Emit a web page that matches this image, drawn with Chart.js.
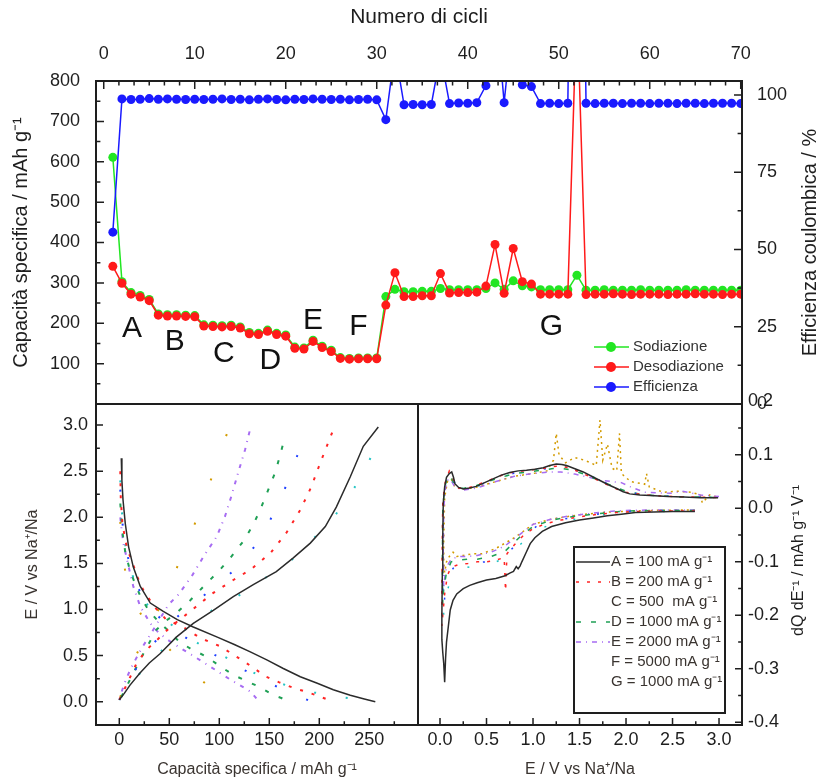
<!DOCTYPE html>
<html>
<head>
<meta charset="utf-8">
<script src="https://cdn.jsdelivr.net/npm/chart.js@4"></script>
<style>
  body { margin: 0; background: #fff; }
  #wrap { position: relative; width: 820px; height: 778px; overflow: hidden; }
  canvas { position: absolute; }
  #cyc { left: 0; top: 0; }
  #prof { left: 0; top: 387px; }
  #dqde { left: 400px; top: 389px; }
</style>
</head>
<body>
<div id="wrap">
  <canvas id="cyc" width="820" height="429"></canvas>
  <canvas id="prof" width="420" height="391"></canvas>
  <canvas id="dqde" width="420" height="389"></canvas>
</div>
<script>
// ---- ciclazione a diverse correnti ----
const cicli = [1,2,3,4,5,6,7,8,9,10,11,12,13,14,15,16,17,18,19,20,21,22,23,24,25,26,27,28,29,30,
  31,32,33,34,35,36,37,38,39,40,41,42,43,44,45,46,47,48,49,50,51,52,53,54,55,56,57,58,59,60,
  61,62,63,64,65,66,67,68,69,70];
const sodiazione = [611,303,276,269,259,223,221,221,220,219,196,195,194,195,191,177,175,183,175,171,
  141,139,158,143,133,115,113,114,114,114,266,284,278,278,279,279,286,283,283,283,
  283,286,300,284,305,293,290,283,283,283,283,319,282,282,283,282,282,282,283,282,
  282,282,282,283,282,282,282,282,282,282];
const desodiazione = [341,299,272,265,256,220,218,218,217,216,193,192,191,192,188,174,172,180,172,168,
  138,136,155,140,130,113,111,112,112,112,245,325,266,266,268,268,323,275,276,276,
  277,292,395,274,385,303,297,272,272,272,272,1000,271,272,272,273,272,271,272,272,
  272,271,272,272,273,272,272,271,272,272];
const efficienza = [55.6,98.7,98.5,98.6,98.8,98.6,98.7,98.6,98.5,98.6,98.5,98.6,98.7,98.5,98.6,98.4,98.6,98.7,98.5,98.4,
  98.6,98.5,98.7,98.6,98.5,98.6,98.4,98.5,98.6,98.4,92.0,114.4,96.8,96.9,96.8,96.9,113.0,97.2,97.4,97.3,
  97.5,103.0,131.7,97.5,126.2,103.3,102.7,97.2,97.3,97.2,97.3,313,97.3,97.2,97.3,97.3,97.2,97.3,97.3,97.2,
  97.3,97.3,97.2,97.3,97.3,97.2,97.3,97.3,97.3,97.2];
const regimi = ['A','B','C','D','E','F','G'];
const regimiCiclo = [3.1, 7.8, 13.2, 18.3, 23.0, 28.0, 49.2];
const regimiCapacita = [187, 154, 125, 108, 207, 191, 191];

const tickCicli = [0,10,20,30,40,50,60,70];
const tickCapacita = [100,200,300,400,500,600,700,800];
const tickEfficienza = [0,25,50,75,100];

// ---- profili galvanostatici [capacità, E] ----
const profA_sod = [[2,2.64],[2.6,2.4],[3.7,2.19],[6,1.93],[9.3,1.68],[14,1.46],[21,1.25],[31,1.07],[44,0.98],[58,0.89],[74,0.81],[98,0.70],[115,0.62],[131,0.54],[148,0.45],[164,0.36],[181,0.27],[198,0.20],[214,0.13],[231,0.07],[245,0.03],[256,0.0]];
const profA_des = [[0,0.02],[5,0.09],[10.7,0.18],[20.7,0.31],[30,0.42],[40.7,0.52],[57,0.70],[74,0.85],[94,0.99],[114,1.14],[134,1.27],[157,1.41],[174,1.56],[191,1.72],[206,1.90],[217,2.11],[231,2.44],[244,2.77],[259,2.98]];
const profB_sod = [[1,2.5],[1.5,2.2],[3,1.95],[6,1.75],[9,1.62],[12.4,1.54],[17,1.38],[24,1.21],[35,1.03],[47,0.89],[64,0.81],[81,0.69],[101,0.60],[114,0.51],[127,0.42],[147,0.27],[160,0.21],[174,0.15],[186,0.11],[197,0.07],[209,0.02]];
const profB_des = [[0,0.02],[8,0.2],[17.4,0.42],[28,0.57],[40.7,0.70],[52,0.82],[64,0.92],[79,1.05],[94,1.18],[114,1.32],[131,1.43],[151,1.61],[167,1.83],[181,2.08],[192,2.33],[202,2.62],[214,2.95]];
const profC_sod = [[1,2.3],[3,1.95],[6,1.7],[10,1.5],[16,1.3],[24,1.12],[34,0.98],[46,0.85],[60,0.74],[80,0.6],[100,0.48],[120,0.37],[140,0.26],[158,0.16],[175,0.08],[190,0.01]];
const profC_des = [[0,0.02],[10,0.24],[22,0.45],[35,0.64],[50,0.84],[68,1.02],[88,1.18],[100,1.28],[118,1.46],[135,1.68],[150,1.95],[162,2.22],[171,2.45],[178,2.67],[188,2.97]];
const profD_sod = [[1,2.15],[3,1.85],[6,1.62],[10,1.45],[15,1.3],[22,1.12],[30,0.98],[40,0.86],[50,0.76],[60,0.65],[72,0.57],[87,0.49],[100,0.39],[114,0.29],[128,0.22],[140,0.16],[154,0.07],[162,0.04],[170,0.0]];
const profD_des = [[2,0.05],[8,0.18],[14,0.31],[24,0.52],[37,0.78],[47,0.88],[57,0.96],[71,1.10],[86,1.27],[99,1.41],[111,1.56],[124,1.74],[134,1.92],[142,2.11],[149,2.30],[156,2.49],[161,2.68],[166,2.89]];
const profE_sod = [[1,2.0],[2.5,1.85],[4,1.72],[9,1.48],[14,1.25],[21,1.03],[31,0.85],[40,0.74],[50,0.66],[60,0.59],[72,0.51],[91,0.38],[111,0.24],[125,0.15],[131,0.11],[136,0.05],[139,0.01]];
const profE_des = [[2.4,0.11],[7,0.25],[12.4,0.38],[22.4,0.58],[34,0.78],[49,1.05],[59,1.16],[72.4,1.36],[84,1.57],[97.4,1.79],[105.7,2.01],[112.4,2.24],[119,2.49],[125.7,2.73],[130.7,2.95]];
const profF_sod = [[1,1.95],[3,1.6],[7,1.35],[14,1.1],[25.7,0.87],[40,0.68],[50,0.57],[62.4,0.43],[75,0.3],[88,0.18],[100,0.09],[110,0.02]];
const profF_des = [[1,0.05],[10,0.35],[22,0.62],[35,0.9],[50,1.25],[65,1.65],[80,2.05],[92,2.42],[102,2.75],[110,2.97]];
const profG_sod = [[1,2.4],[3,2.0],[6,1.7],[10,1.48],[16,1.28],[24,1.10],[35,0.97],[45,0.9],[56,0.8],[70,0.7],[83,0.6],[100,0.52],[118,0.41],[137,0.3],[155,0.22],[175,0.15],[195,0.1],[215,0.06],[235,0.03],[258,0.0]];
const profG_des = [[0,0.02],[10,0.16],[20,0.3],[40,0.53],[60,0.73],[80,0.9],[97,1.02],[114,1.11],[137,1.28],[160,1.44],[180,1.6],[196,1.79],[202,1.85],[215,2.01],[230,2.23],[245,2.5],[257,2.78],[261,2.95]];

const tickCapProfilo = [0,50,100,150,200,250];
const tickPotenziale = [0,0.5,1,1.5,2,2.5,3];

// ---- voltammetria differenziale [E, dQ/dE] ----
const dqA = [[2.74,-0.006],[2.5,-0.006],[2.3,-0.007],[2.1,-0.008],[1.95,-0.011],[1.8,-0.014],[1.65,-0.018],[1.5,-0.022],[1.35,-0.027],[1.2,-0.034],[1.1,-0.043],[1.02,-0.055],[0.97,-0.066],[0.92,-0.085],[0.88,-0.1],[0.86,-0.108],[0.84,-0.113],[0.82,-0.109],[0.79,-0.118],[0.75,-0.121],[0.7,-0.126],[0.6,-0.131],[0.5,-0.134],[0.4,-0.139],[0.32,-0.144],[0.25,-0.15],[0.18,-0.16],[0.14,-0.172],[0.11,-0.19],[0.09,-0.22],[0.07,-0.25],[0.06,-0.28],[0.05,-0.325],[0.04,-0.29],[0.03,-0.27],[0.02,-0.245],[0.02,-0.2],[0.025,-0.12],[0.03,-0.05],[0.035,0.01],[0.05,0.04],[0.07,0.058],[0.1,0.065],[0.126,0.068],[0.145,0.058],[0.16,0.046],[0.2,0.039],[0.25,0.036],[0.32,0.038],[0.39,0.041],[0.48,0.048],[0.57,0.055],[0.66,0.062],[0.75,0.067],[0.84,0.07],[0.93,0.071],[1.02,0.073],[1.11,0.076],[1.18,0.08],[1.25,0.083],[1.31,0.082],[1.36,0.08],[1.45,0.074],[1.54,0.068],[1.63,0.06],[1.72,0.052],[1.81,0.044],[1.9,0.037],[1.97,0.031],[2.04,0.027],[2.15,0.025],[2.26,0.024],[2.45,0.022],[2.62,0.021],[2.8,0.02],[2.99,0.02]];
const dqB = [[2.74,-0.005],[2.4,-0.005],[2.1,-0.006],[1.9,-0.008],[1.7,-0.011],[1.5,-0.016],[1.3,-0.022],[1.15,-0.028],[1.0,-0.038],[0.9,-0.05],[0.8,-0.068],[0.72,-0.085],[0.705,-0.155],[0.69,-0.092],[0.6,-0.097],[0.5,-0.1],[0.4,-0.1],[0.3,-0.103],[0.2,-0.105],[0.12,-0.11],[0.08,-0.125],[0.05,-0.16],[0.03,-0.2],[0.02,-0.22],[0.02,-0.15],[0.025,-0.05],[0.03,0.01],[0.05,0.045],[0.08,0.06],[0.1,0.07],[0.13,0.062],[0.16,0.045],[0.2,0.038],[0.3,0.038],[0.4,0.044],[0.5,0.05],[0.6,0.058],[0.7,0.064],[0.8,0.068],[0.9,0.07],[1.0,0.072],[1.1,0.074],[1.2,0.078],[1.3,0.079],[1.4,0.075],[1.5,0.068],[1.6,0.06],[1.7,0.052],[1.8,0.044],[1.9,0.036],[2.0,0.03],[2.2,0.025],[2.5,0.022],[2.8,0.021],[3.0,0.02]];
const dqC = [[2.74,-0.005],[2.3,-0.005],[2.0,-0.006],[1.8,-0.009],[1.6,-0.013],[1.4,-0.018],[1.2,-0.024],[1.05,-0.032],[0.95,-0.045],[0.85,-0.062],[0.75,-0.08],[0.65,-0.092],[0.5,-0.1],[0.35,-0.102],[0.25,-0.105],[0.15,-0.11],[0.09,-0.125],[0.06,-0.15],[0.04,-0.185],[0.03,-0.19],[0.03,-0.12],[0.035,-0.02],[0.045,0.03],[0.07,0.055],[0.1,0.066],[0.13,0.06],[0.17,0.043],[0.25,0.037],[0.4,0.042],[0.6,0.055],[0.8,0.066],[1.0,0.07],[1.2,0.076],[1.3,0.077],[1.4,0.074],[1.55,0.066],[1.7,0.054],[1.85,0.042],[2.0,0.031],[2.2,0.025],[2.5,0.022],[2.8,0.021],[3.0,0.02]];
const dqD = [[2.74,-0.004],[2.3,-0.004],[2.0,-0.005],[1.8,-0.008],[1.6,-0.012],[1.4,-0.016],[1.2,-0.022],[1.0,-0.034],[0.85,-0.055],[0.7,-0.08],[0.55,-0.09],[0.4,-0.095],[0.3,-0.095],[0.2,-0.097],[0.12,-0.1],[0.07,-0.12],[0.04,-0.15],[0.03,-0.18],[0.025,-0.1],[0.03,0.0],[0.05,0.04],[0.09,0.062],[0.12,0.058],[0.16,0.042],[0.25,0.037],[0.4,0.043],[0.6,0.055],[0.8,0.065],[1.0,0.069],[1.2,0.074],[1.3,0.075],[1.4,0.072],[1.55,0.064],[1.7,0.053],[1.85,0.042],[2.0,0.032],[2.2,0.025],[2.5,0.022],[2.8,0.021],[3.0,0.02]];
const dqE = [[2.74,-0.003],[2.3,-0.003],[2.0,-0.004],[1.8,-0.006],[1.6,-0.01],[1.4,-0.014],[1.2,-0.02],[1.0,-0.03],[0.85,-0.05],[0.7,-0.07],[0.55,-0.082],[0.4,-0.088],[0.3,-0.09],[0.2,-0.09],[0.12,-0.095],[0.07,-0.11],[0.05,-0.13],[0.04,-0.15],[0.035,-0.08],[0.04,0.0],[0.06,0.04],[0.09,0.055],[0.12,0.052],[0.16,0.04],[0.25,0.034],[0.4,0.038],[0.6,0.05],[0.8,0.06],[1.0,0.065],[1.2,0.068],[1.3,0.068],[1.45,0.064],[1.6,0.058],[1.75,0.052],[1.85,0.05],[1.95,0.048],[2.05,0.04],[2.2,0.03],[2.5,0.028],[2.6,0.032],[2.8,0.025],[3.0,0.022]];
const dqF = [[2.74,-0.003],[2.2,-0.004],[1.8,-0.007],[1.5,-0.012],[1.2,-0.02],[1.0,-0.03],[0.8,-0.055],[0.6,-0.075],[0.45,-0.085],[0.35,-0.085],[0.25,-0.088],[0.18,-0.09],[0.14,-0.082],[0.1,-0.09],[0.07,-0.1],[0.05,-0.12],[0.04,-0.1],[0.04,-0.06],[0.05,0.02],[0.08,0.05],[0.12,0.055],[0.16,0.04],[0.25,0.035],[0.4,0.04],[0.6,0.05],[0.8,0.06],[1.0,0.065],[1.15,0.07],[1.22,0.09],[1.25,0.14],[1.28,0.1],[1.35,0.085],[1.45,0.095],[1.55,0.09],[1.62,0.085],[1.68,0.08],[1.72,0.165],[1.75,0.09],[1.8,0.12],[1.85,0.075],[1.9,0.07],[1.93,0.14],[1.95,0.065],[2.05,0.05],[2.2,0.045],[2.22,0.065],[2.25,0.04],[2.4,0.03],[2.55,0.032],[2.7,0.03],[2.8,0.025],[2.82,0.01],[2.9,0.025],[3.0,0.02]];
const dqG = [[2.74,-0.005],[2.3,-0.006],[2.0,-0.008],[1.8,-0.011],[1.6,-0.016],[1.4,-0.022],[1.2,-0.03],[1.05,-0.04],[0.95,-0.052],[0.85,-0.07],[0.75,-0.09],[0.6,-0.1],[0.45,-0.105],[0.3,-0.11],[0.18,-0.12],[0.1,-0.14],[0.06,-0.17],[0.04,-0.2],[0.03,-0.15],[0.035,-0.02],[0.05,0.04],[0.08,0.06],[0.12,0.066],[0.16,0.045],[0.25,0.037],[0.4,0.041],[0.6,0.054],[0.8,0.066],[1.0,0.071],[1.2,0.078],[1.3,0.08],[1.4,0.076],[1.55,0.067],[1.7,0.054],[1.85,0.042],[2.0,0.031],[2.2,0.025],[2.5,0.022],[2.8,0.021],[3.0,0.02]];

const correnti = ['A = 100 mA g\u207B\u00B9','B = 200 mA g\u207B\u00B9','C = 500  mA g\u207B\u00B9','D = 1000 mA g\u207B\u00B9','E = 2000 mA g\u207B\u00B9','F = 5000 mA g\u207B\u00B9','G = 1000 mA g\u207B\u00B9'];
const tickDq = [0.2,0.1,0,-0.1,-0.2,-0.3,-0.4];
const tickE = [0,0.5,1,1.5,2,2.5,3];

// ---- stile comune ----
const FONT = "'Liberation Sans', Arial, sans-serif";
const INK = '#1e1e1e';
const colori = ['#2b2b2b','#ff2424','#2040ff','#1fa055','#a76cf2','#d39b00','#22c4c4'];
const tratti = [[], [3,8], [2,30], [5,10], [5,5,1,5], [2,4], [2,28]];
const trattiProfilo = [[], [3,9], [2,32], [4,11], [4,6,1,6], [2,45], [2,30]];

function fissaTick(valori) {
  return s => { s.ticks = valori.map(v => ({ value: v })); };
}
function asse(opts) {
  return Object.assign({
    type: 'linear',
    grid: { display: false, drawTicks: false },
    border: { display: false }
  }, opts);
}
function fontTick(size) { return { family: FONT, size: size, lineHeight: 1 }; }

// tacche interne: passo maggiore e numero di tacche minori
function tacche(chart, id, lato, passo, minori, lung) {
  const s = chart.scales[id], a = chart.chartArea, ctx = chart.ctx;
  const sub = passo / (minori + 1);
  const k0 = Math.ceil(s.min / sub - 1e-6), k1 = Math.floor(s.max / sub + 1e-6);
  ctx.save();
  ctx.strokeStyle = INK;
  ctx.lineWidth = 1.5;
  ctx.beginPath();
  for (let k = k0; k <= k1; k++) {
    const p = s.getPixelForValue(k * sub);
    const L = (((k % (minori + 1)) + (minori + 1)) % (minori + 1) === 0) ? lung : lung * 0.55;
    if (lato === 'left') { ctx.moveTo(a.left, p); ctx.lineTo(a.left + L, p); }
    if (lato === 'right') { ctx.moveTo(a.right, p); ctx.lineTo(a.right - L, p); }
    if (lato === 'top') { ctx.moveTo(p, a.top); ctx.lineTo(p, a.top + L); }
    if (lato === 'bottom') { ctx.moveTo(p, a.bottom); ctx.lineTo(p, a.bottom - L); }
  }
  ctx.stroke();
  ctx.restore();
}

const cornice = {
  id: 'cornice',
  afterDraw(chart, args, o) {
    const { ctx, chartArea: a } = chart;
    (o.tacche || []).forEach(t => tacche(chart, ...t));
    ctx.save();
    ctx.strokeStyle = INK;
    ctx.lineWidth = 2;
    ctx.strokeRect(a.left, a.top, a.width, a.height);
    if (o.titoloDestro) {
      // titolo dell'asse destro, letto dal basso verso l'alto
      ctx.translate(o.titoloDestro.x, (a.top + a.bottom) / 2 + (o.titoloDestro.dy || 0));
      ctx.rotate(-Math.PI / 2);
      ctx.fillStyle = INK;
      ctx.font = o.titoloDestro.size + 'px ' + FONT;
      ctx.textAlign = 'center';
      ctx.textBaseline = 'middle';
      ctx.fillText(o.titoloDestro.text, 0, 0);
    }
    ctx.restore();
  }
};

// ---- pannello superiore ----
function punti(xs, ys) { return xs.map((x, i) => ({ x: x, y: ys[i] })); }

const annotaCicli = {
  id: 'annotaCicli',
  afterDatasetsDraw(chart) {
    const { ctx, scales } = chart;
    ctx.save();
    ctx.fillStyle = '#111';
    ctx.font = '30px ' + FONT;
    ctx.textAlign = 'center';
    ctx.textBaseline = 'middle';
    regimi.forEach((r, i) => {
      ctx.fillText(r, scales.x.getPixelForValue(regimiCiclo[i]), scales.y.getPixelForValue(regimiCapacita[i]));
    });
    // legenda
    const voci = ['Sodiazione', 'Desodiazione', 'Efficienza'];
    const a = chart.chartArea;
    voci.forEach((nome, i) => {
      const ds = chart.data.datasets.find(d => d.label === nome);
      const y = a.bottom - 57 + i * 20;
      const x0 = a.right - 148;
      ctx.strokeStyle = ds.borderColor;
      ctx.lineWidth = 1.5;
      ctx.beginPath(); ctx.moveTo(x0, y); ctx.lineTo(x0 + 35, y); ctx.stroke();
      ctx.fillStyle = ds.borderColor;
      ctx.beginPath(); ctx.arc(x0 + 17, y, 5, 0, Math.PI * 2); ctx.fill();
      ctx.fillStyle = '#333';
      ctx.font = '15px ' + FONT;
      ctx.textAlign = 'left';
      ctx.fillText(nome, x0 + 39, y);
    });
    ctx.restore();
  }
};

function serieCicli(label, ys, asseY, colore, ordine) {
  return {
    label: label, data: punti(cicli, ys), yAxisID: asseY, order: ordine,
    borderColor: colore, backgroundColor: colore, pointBackgroundColor: colore,
    borderWidth: 1.5, pointRadius: 4.5, pointBorderWidth: 0, tension: 0
  };
}

new Chart(document.getElementById('cyc'), {
  type: 'line',
  data: {
    datasets: [
      serieCicli('Efficienza', efficienza, 'y2', '#1a1aff', 0),
      serieCicli('Desodiazione', desodiazione, 'y', '#ff1a1a', 1),
      serieCicli('Sodiazione', sodiazione, 'y', '#22e622', 2)
    ]
  },
  options: {
    responsive: false,
    animation: false,
    layout: { padding: { bottom: 16 } },
    plugins: {
      legend: { display: false },
      tooltip: { enabled: false },
      cornice: {
        tacche: [['x', 'top', 10, 5, 8], ['y', 'left', 100, 1, 8], ['y2', 'right', 25, 1, 8]],
        titoloDestro: { text: 'Efficienza coulombica / %', x: 810, size: 20 }
      }
    },
    scales: {
      x: asse({
        position: 'top', min: -0.85, max: 70.14,
        afterFit: s => { s.height = 81; },
        afterBuildTicks: fissaTick(tickCicli),
        ticks: { font: fontTick(18), color: INK, padding: 18, maxRotation: 0, autoSkip: false },
        title: { display: true, text: 'Numero di cicli', color: INK,
                 font: { family: FONT, size: 21, lineHeight: 1 }, padding: { top: 7, bottom: 0 } }
      }),
      y: asse({
        position: 'left', min: 0, max: 800,
        afterFit: s => { s.width = 96; },
        afterBuildTicks: fissaTick(tickCapacita),
        ticks: { font: fontTick(18), color: INK, padding: 16 },
        title: { display: true, text: 'Capacità specifica / mAh g\u207B\u00B9', color: INK,
                 font: { family: FONT, size: 20, lineHeight: 1 }, padding: { top: 11, bottom: 0 } }
      }),
      y2: asse({
        position: 'right', min: 0, max: 104.5,
        afterFit: s => { s.width = 78; },
        afterBuildTicks: fissaTick(tickEfficienza),
        ticks: { font: fontTick(18), color: INK, padding: 15 }
      })
    }
  },
  plugins: [cornice, annotaCicli]
});

// ---- pannelli inferiori ----
function serieXY(pts, label, colore, tratto, spessore) {
  return {
    label: label, data: pts.map(p => ({ x: p[0], y: p[1] })), showLine: true,
    borderColor: colore, backgroundColor: colore, borderDash: tratto,
    borderWidth: spessore, pointRadius: 0, tension: 0
  };
}

const profili = [[profA_sod, profA_des], [profB_sod, profB_des], [profC_sod, profC_des],
                 [profD_sod, profD_des], [profE_sod, profE_des], [profF_sod, profF_des],
                 [profG_sod, profG_des]];
const setProfili = [];
profili.forEach((coppia, i) => {
  coppia.forEach(p => setProfili.push(serieXY(p, correnti[i], colori[i], trattiProfilo[i], i === 0 ? 1.5 : 2)));
});

new Chart(document.getElementById('prof'), {
  type: 'scatter',
  data: { datasets: setProfili },
  options: {
    responsive: false,
    animation: false,
    layout: { padding: { top: 14, right: 2 } },
    plugins: {
      legend: { display: false },
      tooltip: { enabled: false },
      cornice: { tacche: [['x', 'bottom', 50, 1, 7], ['y', 'left', 0.5, 1, 7]] }
    },
    scales: {
      x: asse({
        position: 'bottom', min: -23.3, max: 298.7,
        afterFit: s => { s.height = 53; },
        afterBuildTicks: fissaTick(tickCapProfilo),
        ticks: { font: fontTick(18), color: INK, padding: 6, maxRotation: 0, autoSkip: false },
        title: { display: true, text: 'Capacità specifica / mAh g\u207B\u00B9', color: '#3a3430',
                 font: { family: FONT, size: 16, lineHeight: 1 }, padding: { top: 0, bottom: 0 } }
      }),
      y: asse({
        position: 'left', min: -0.253, max: 3.229,
        afterFit: s => { s.width = 96; },
        afterBuildTicks: fissaTick(tickPotenziale),
        ticks: { font: fontTick(18), color: INK, padding: 8, callback: v => v.toFixed(1) },
        title: { display: true, text: 'E / V vs Na\u207A/Na', color: '#3a3430',
                 font: { family: FONT, size: 16, lineHeight: 1 }, padding: { top: 25, bottom: 0 } }
      })
    }
  },
  plugins: [cornice]
});

const curveDq = [dqA, dqB, dqC, dqD, dqE, dqF, dqG];
const setDq = curveDq.map((c, i) => {
  const d = serieXY(c, correnti[i], colori[i], tratti[i], 1.5);
  d.campione = [0, 1, 3, 4].includes(i);
  return d;
});

const legendaDq = {
  id: 'legendaDq',
  afterDraw(chart) {
    const { ctx, chartArea: a } = chart;
    const x0 = a.right - 168, y0 = a.top + 143;
    ctx.save();
    ctx.fillStyle = '#fff';
    ctx.fillRect(x0, y0, 151, 166);
    ctx.strokeStyle = INK;
    ctx.lineWidth = 2;
    ctx.strokeRect(x0, y0, 151, 166);
    chart.data.datasets.forEach((ds, i) => {
      const y = y0 + 15 + i * 20;
      if (ds.campione) {
        ctx.strokeStyle = ds.borderColor;
        ctx.lineWidth = 1.5;
        ctx.setLineDash(ds.borderDash);
        ctx.beginPath(); ctx.moveTo(x0 + 2, y); ctx.lineTo(x0 + 36, y); ctx.stroke();
        ctx.setLineDash([]);
      }
      ctx.fillStyle = '#3a3430';
      ctx.font = '15px ' + FONT;
      ctx.textAlign = 'left';
      ctx.textBaseline = 'middle';
      ctx.fillText(ds.label, x0 + 37, y);
    });
    ctx.restore();
  }
};

new Chart(document.getElementById('dqde'), {
  type: 'scatter',
  data: { datasets: setDq },
  options: {
    responsive: false,
    animation: false,
    layout: { padding: { top: 14, left: 18 } },
    plugins: {
      legend: { display: false },
      tooltip: { enabled: false },
      cornice: {
        tacche: [['x', 'bottom', 0.5, 1, 7], ['y', 'right', 0.1, 1, 7]],
        titoloDestro: { text: 'dQ dE\u207B\u00B9 / mAh g\u207B\u00B9 V\u207B\u00B9', x: 399, size: 16, dy: -4 }
      }
    },
    scales: {
      x: asse({
        position: 'bottom', min: -0.2366, max: 3.247,
        afterFit: s => { s.height = 53; },
        afterBuildTicks: fissaTick(tickE),
        ticks: { font: fontTick(18), color: INK, padding: 6, maxRotation: 0, autoSkip: false,
                 callback: v => v.toFixed(1) },
        title: { display: true, text: 'E / V vs Na\u207A/Na', color: '#3a3430',
                 font: { family: FONT, size: 16, lineHeight: 1 }, padding: { top: 0, bottom: 0 } }
      }),
      y: asse({
        position: 'right', min: -0.405, max: 0.195,
        afterFit: s => { s.width = 78; },
        afterBuildTicks: fissaTick(tickDq),
        ticks: { font: fontTick(18), color: INK, padding: 6, callback: v => v.toFixed(1) }
      })
    }
  },
  plugins: [cornice, legendaDq]
});
</script>
</body>
</html>
